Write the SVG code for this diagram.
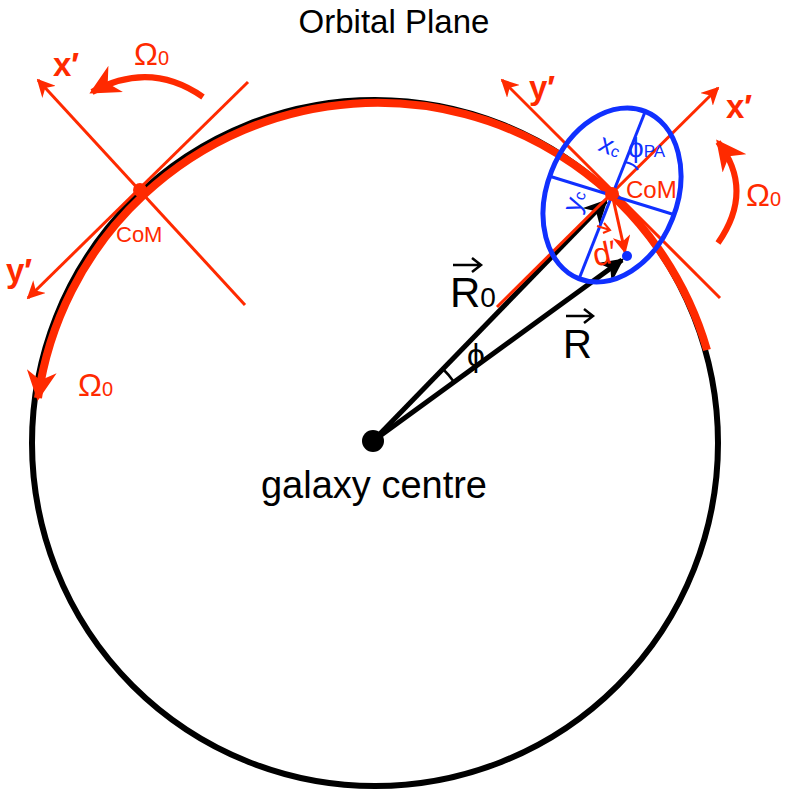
<svg xmlns="http://www.w3.org/2000/svg" width="788" height="792" viewBox="0 0 788 792">
<defs>
<marker id="arr" viewBox="0 0 10 10" refX="9" refY="5" markerWidth="18" markerHeight="18" orient="auto" markerUnits="userSpaceOnUse"><path d="M0,0 L10,5 L0,10 L3,5z" fill="#ff2a00"/></marker>
<marker id="ab" viewBox="0 0 10 10" refX="9" refY="5" markerWidth="24" markerHeight="24" orient="auto" markerUnits="userSpaceOnUse"><path d="M0,0 L10,5 L0,10 L3,5z" fill="#000"/></marker>
<marker id="abig" viewBox="0 0 10 10" refX="9" refY="5" markerWidth="30" markerHeight="30" orient="auto" markerUnits="userSpaceOnUse"><path d="M0,0 L10,5 L0,10 L3,5z" fill="#ff2a00"/></marker>
</defs>
<style>
.r{stroke:#ff2a00;fill:none}
.t{font-family:"Liberation Sans",Arial,sans-serif}
.red{fill:#ff2a00}
.blue{fill:#1030ff}
</style>
<rect width="788" height="792" fill="#fff"/>
<text class="t" x="394" y="33" font-size="33" text-anchor="middle">Orbital Plane</text>
<g id="orbit">
<circle cx="375" cy="443" r="343" fill="none" stroke="#000" stroke-width="6"/>
<path class="r" stroke-width="8" marker-end="url(#abig)" d="M707,350 A343,343 0 0 0 38,398"/>
</g>
<g id="connectors">
<line x1="373" y1="441" x2="606" y2="201" stroke="#000" stroke-width="5" marker-end="url(#ab)"/>
<line x1="497" y1="307" x2="718" y2="88" class="r" stroke-width="3" marker-end="url(#arr)"/>
<line x1="373" y1="441" x2="622" y2="260" stroke="#000" stroke-width="5" marker-end="url(#ab)"/>
<path d="M442,368 A100,100 0 0 1 454,382" stroke="#000" stroke-width="2.5" fill="none"/>
<line x1="720" y1="298" x2="502" y2="80" class="r" stroke-width="3" marker-end="url(#arr)"/>
<line x1="612" y1="194" x2="625" y2="252" class="r" stroke-width="3" marker-end="url(#arr)"/>
<line x1="245" y1="305" x2="38" y2="80" class="r" stroke-width="3" marker-end="url(#arr)"/>
<line x1="248" y1="82" x2="28" y2="298" class="r" stroke-width="3" marker-end="url(#arr)"/>
<path d="M203,97 Q150,60 92,92" class="r" stroke-width="6" marker-end="url(#abig)"/>
<path d="M718,243 Q755,190 718,142" class="r" stroke-width="6" marker-end="url(#abig)"/>
</g>
<g id="ellipse">
<ellipse cx="612" cy="195" rx="65" ry="90" transform="rotate(21.6 612 195)" fill="none" stroke="#1030ff" stroke-width="5"/>
<line x1="645" y1="112" x2="579" y2="279" stroke="#1030ff" stroke-width="3"/>
<line x1="549" y1="176" x2="672" y2="214" stroke="#1030ff" stroke-width="3"/>
<path d="M625,162 Q635,164 638,170" stroke="#1030ff" stroke-width="2" fill="none"/>
<circle cx="627" cy="256" r="5" fill="#1030ff"/>
<text class="t blue" font-size="27" transform="translate(597,150) rotate(22)">x<tspan font-size="16">c</tspan></text>
<text class="t blue" font-size="27" transform="translate(579,214) rotate(-70)">y<tspan font-size="16">c</tspan></text>
<text class="t blue" x="628" y="157" font-size="28">ϕ<tspan font-size="17">PA</tspan></text>
</g>
<g id="comRight">
<circle cx="612" cy="194" r="7" fill="#ff2a00"/>
<text class="t red" x="626" y="198" font-size="24">CoM</text>
<text class="t red" x="529" y="99" font-size="33" font-weight="bold">y′</text>
<text class="t red" x="726" y="118" font-size="33" font-weight="bold">x′</text>
<text class="t red" x="746" y="206" font-size="32">Ω<tspan font-size="20">0</tspan></text>
<text class="t red" x="592" y="264" font-size="32" transform="rotate(-12 606 250)">d′</text>
<path d="M597,226 L610,230 M604,223 L610,230 L603,233" class="r" stroke-width="2"/>
</g>
<g id="comLeft">
<circle cx="140" cy="190" r="7" fill="#ff2a00"/>
<text class="t red" x="116" y="242" font-size="22">CoM</text>
<text class="t red" x="53" y="76" font-size="33" font-weight="bold">x′</text>
<text class="t red" x="6" y="282" font-size="33" font-weight="bold">y′</text>
<text class="t red" x="134" y="65" font-size="32">Ω<tspan font-size="20">0</tspan></text>
<text class="t red" x="78" y="396" font-size="32">Ω<tspan font-size="20">0</tspan></text>
</g>
<g id="centre">
<circle cx="373" cy="441" r="11" fill="#000"/>
<text class="t" x="374" y="498" font-size="38" text-anchor="middle">galaxy centre</text>
<text class="t" x="450" y="307" font-size="42">R<tspan font-size="28">0</tspan></text>
<path d="M453,265 L480,265 M472,258 L481,265 L472,272" stroke="#000" stroke-width="2.5" fill="none"/>
<text class="t" x="563" y="358" font-size="40">R</text>
<path d="M566,316 L592,316 M584,309 L593,316 L584,323" stroke="#000" stroke-width="2.5" fill="none"/>
<text class="t" x="467" y="366" font-size="32">ϕ</text>
</g>
</svg>
